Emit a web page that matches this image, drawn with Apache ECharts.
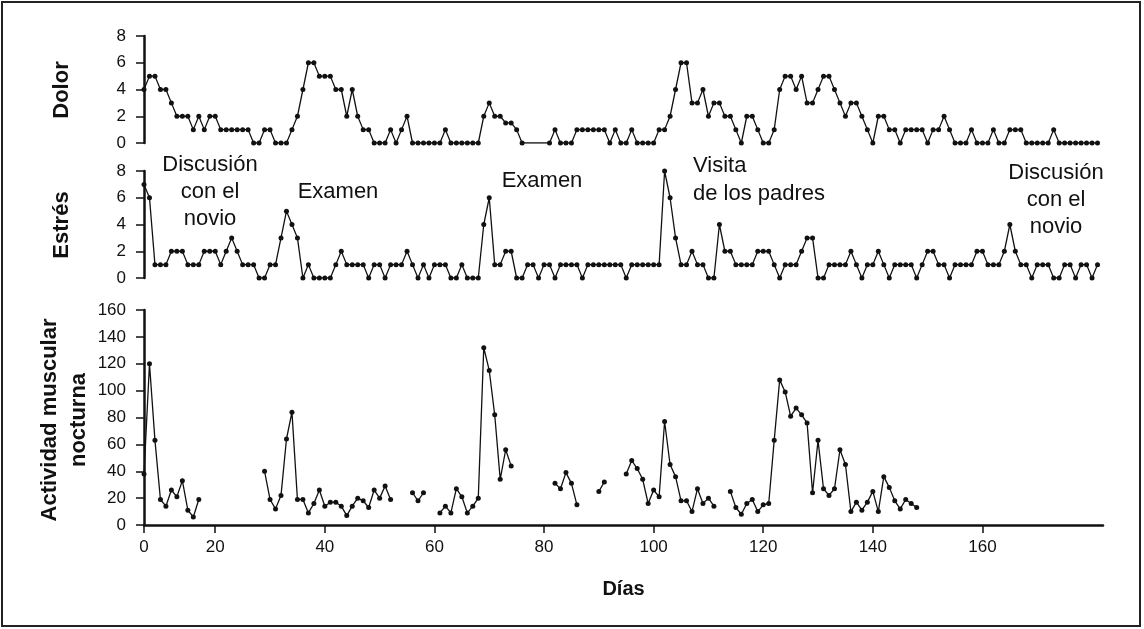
<!DOCTYPE html>
<html>
<head>
<meta charset="utf-8">
<title>Dolor, estrés y actividad muscular nocturna</title>
<style>
  html, body { margin: 0; padding: 0; background: #fff; }
  #chart { width: 1144px; height: 629px; }
</style>
<script src="https://cdn.jsdelivr.net/npm/echarts@6.0.0/dist/echarts.min.js"></script>
</head>
<body>
<div id="chart"></div>
<script>
// primer día registrado (coincide con el origen del eje) y último día del eje
const startDay = 7;
const endDay = 182;

// valores diarios desde startDay; null = día sin registro
const dolor = [
  4, 5, 5, 4, 4, 3, 2, 2, 2, 1,
  2, 1, 2, 2, 1, 1, 1, 1, 1, 1,
  0, 0, 1, 1, 0, 0, 0, 1, 2, 4,
  6, 6, 5, 5, 5, 4, 4, 2, 4, 2,
  1, 1, 0, 0, 0, 1, 0, 1, 2, 0,
  0, 0, 0, 0, 0, 1, 0, 0, 0, 0,
  0, 0, 2, 3, 2, 2, 1.5, 1.5, 1, 0,
  null, null, null, null, 0, 1, 0, 0, 0, 1,
  1, 1, 1, 1, 1, 0, 1, 0, 0, 1,
  0, 0, 0, 0, 1, 1, 2, 4, 6, 6,
  3, 3, 4, 2, 3, 3, 2, 2, 1, 0,
  2, 2, 1, 0, 0, 1, 4, 5, 5, 4,
  5, 3, 3, 4, 5, 5, 4, 3, 2, 3,
  3, 2, 1, 0, 2, 2, 1, 1, 0, 1,
  1, 1, 1, 0, 1, 1, 2, 1, 0, 0,
  0, 1, 0, 0, 0, 1, 0, 0, 1, 1,
  1, 0, 0, 0, 0, 0, 1, 0, 0, 0,
  0, 0, 0, 0, 0
];

const estres = [
  7, 6, 1, 1, 1, 2, 2, 2, 1, 1,
  1, 2, 2, 2, 1, 2, 3, 2, 1, 1,
  1, 0, 0, 1, 1, 3, 5, 4, 3, 0,
  1, 0, 0, 0, 0, 1, 2, 1, 1, 1,
  1, 0, 1, 1, 0, 1, 1, 1, 2, 1,
  0, 1, 0, 1, 1, 1, 0, 0, 1, 0,
  0, 0, 4, 6, 1, 1, 2, 2, 0, 0,
  1, 1, 0, 1, 1, 0, 1, 1, 1, 1,
  0, 1, 1, 1, 1, 1, 1, 1, 0, 1,
  1, 1, 1, 1, 1, 8, 6, 3, 1, 1,
  2, 1, 1, 0, 0, 4, 2, 2, 1, 1,
  1, 1, 2, 2, 2, 1, 0, 1, 1, 1,
  2, 3, 3, 0, 0, 1, 1, 1, 1, 2,
  1, 0, 1, 1, 2, 1, 0, 1, 1, 1,
  1, 0, 1, 2, 2, 1, 1, 0, 1, 1,
  1, 1, 2, 2, 1, 1, 1, 2, 4, 2,
  1, 1, 0, 1, 1, 1, 0, 0, 1, 1,
  0, 1, 1, 0, 1
];

const actividad = [
  38, 120, 63, 19, 14, 26, 21, 33, 11, 6,
  19, null, null, null, null, null, null, null, null, null,
  null, null, 40, 19, 12, 22, 64, 84, 19, 19,
  9, 16, 26, 14, 17, 17, 14, 7, 14, 20,
  18, 13, 26, 20, 29, 19, null, null, null, 24,
  18, 24, null, null, 9, 14, 9, 27, 21, 9,
  14, 20, 132, 115, 82, 34, 56, 44, null, null,
  null, null, null, null, null, 31, 27, 39, 31, 15,
  null, null, null, 25, 32, null, null, null, 38, 48,
  42, 34, 16, 26, 21, 77, 45, 36, 18, 18,
  10, 27, 16, 20, 14, null, null, 25, 13, 8,
  16, 19, 10, 15, 16, 63, 108, 99, 81, 87,
  82, 76, 24, 63, 27, 22, 27, 56, 45, 10,
  17, 11, 17, 25, 10, 36, 28, 18, 12, 19,
  16, 13
];

// marcas del eje de días: el origen se rotula "0" como en el original
const dayTicks = [7, 20, 40, 60, 80, 100, 120, 140, 160];
const dayTickLabels = ['0', '20', '40', '60', '80', '100', '120', '140', '160'];

const FONT = 'Liberation Sans, Arial, Helvetica, sans-serif';
const INK = '#111';

function toPairs(values) {
  return values.map((v, i) => [startDay + i, v]);
}

function xAxisFor(gridIndex, visible) {
  return {
    type: 'value',
    gridIndex: gridIndex,
    min: startDay,
    max: endDay,
    show: visible,
    axisLine: { show: visible, onZero: false, lineStyle: { color: INK, width: 2.5 } },
    axisTick: { show: visible, length: 8, customValues: dayTicks, lineStyle: { color: INK, width: 1.5 } },
    axisLabel: {
      show: visible,
      customValues: dayTicks,
      margin: 14,
      fontSize: 17,
      fontFamily: FONT,
      color: INK,
      formatter: function (v) {
        const i = dayTicks.indexOf(v);
        return i >= 0 ? dayTickLabels[i] : '';
      }
    },
    splitLine: { show: false },
    name: visible ? 'Días' : '',
    nameLocation: 'middle',
    nameGap: 54,
    nameTextStyle: { fontSize: 20, fontWeight: 'bold', fontFamily: FONT, color: INK }
  };
}

function yAxisFor(gridIndex, max, interval) {
  return {
    type: 'value',
    gridIndex: gridIndex,
    min: 0,
    max: max,
    interval: interval,
    axisLine: { show: true, lineStyle: { color: INK, width: 2.5 } },
    axisTick: { show: true, length: 8, lineStyle: { color: INK, width: 1.5 } },
    axisLabel: { margin: 18, fontSize: 17, fontFamily: FONT, color: INK },
    splitLine: { show: false }
  };
}

function lineSeries(name, values, axisIndex, connect) {
  return {
    name: name,
    type: 'line',
    xAxisIndex: axisIndex,
    yAxisIndex: axisIndex,
    data: toPairs(values),
    connectNulls: connect,
    showAllSymbol: true,
    symbol: 'circle',
    symbolSize: 5,
    itemStyle: { color: INK },
    lineStyle: { color: INK, width: 1.3 },
    emphasis: { disabled: true }
  };
}

function note(text, x, y, align, lineHeight) {
  return {
    type: 'text',
    x: x,
    y: y,
    style: {
      text: text,
      font: '22px ' + FONT,
      fill: INK,
      align: align,
      verticalAlign: 'middle',
      lineHeight: lineHeight || 27
    }
  };
}

function axisTitle(text, x, y) {
  return {
    type: 'text',
    x: x,
    y: y,
    rotation: Math.PI / 2,
    style: {
      text: text,
      font: 'bold 22px ' + FONT,
      fill: INK,
      align: 'center',
      verticalAlign: 'middle',
      lineHeight: 29
    }
  };
}

const chart = echarts.init(document.getElementById('chart'), null, { renderer: 'canvas' });

chart.setOption({
  animation: false,
  backgroundColor: '#ffffff',
  grid: [
    { left: 144, width: 959, top: 36, height: 107 },
    { left: 144, width: 959, top: 171, height: 107 },
    { left: 144, width: 959, top: 310, height: 215 }
  ],
  xAxis: [xAxisFor(0, false), xAxisFor(1, false), xAxisFor(2, true)],
  yAxis: [yAxisFor(0, 8, 2), yAxisFor(1, 8, 2), yAxisFor(2, 160, 20)],
  series: [
    lineSeries('Dolor', dolor, 0, true),
    lineSeries('Estrés', estres, 1, false),
    lineSeries('Actividad muscular nocturna', actividad, 2, false)
  ],
  graphic: [
    {
      type: 'rect',
      shape: { x: 2, y: 2, width: 1138, height: 624 },
      style: { fill: 'none', stroke: '#222', lineWidth: 2 },
      silent: true
    },
    axisTitle('Dolor', 62, 90),
    axisTitle('Estrés', 62, 225),
    axisTitle('Actividad muscular\nnocturna', 64, 420),
    note('Discusión\ncon el\nnovio', 210, 192, 'center'),
    note('Examen', 338, 192, 'center'),
    note('Examen', 542, 181, 'center'),
    note('Visita\nde los padres', 693, 180, 'left', 28),
    note('Discusión\ncon el\nnovio', 1056, 200, 'center')
  ]
});
</script>
</body>
</html>
